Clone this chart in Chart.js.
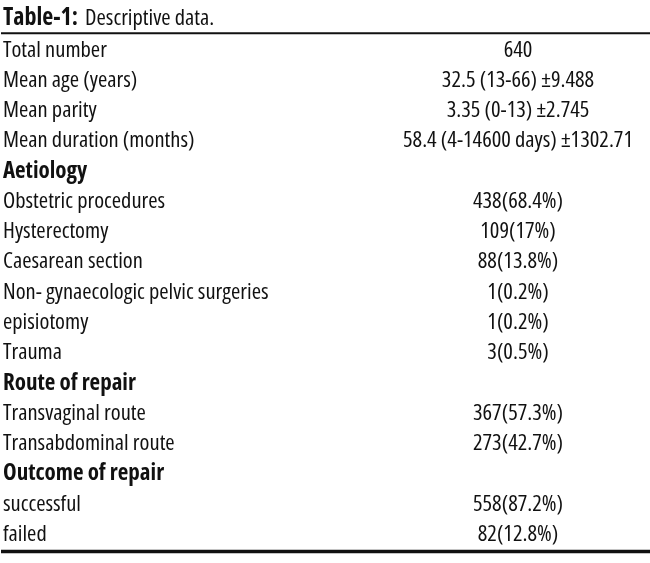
<!DOCTYPE html>
<html>
<head>
<meta charset="utf-8">
<script src="https://cdn.jsdelivr.net/npm/chart.js"></script>
<style>
  html, body { margin: 0; padding: 0; background: #fff; }
  #wrap { width: 650px; height: 563px; position: relative; }
</style>
</head>
<body>
<div id="wrap"><canvas id="table"></canvas></div>
<script>
// table content
const rowLabels = [
  'Total number',
  'Mean age (years)',
  'Mean parity',
  'Mean duration (months)',
  'Aetiology',
  'Obstetric procedures',
  'Hysterectomy',
  'Caesarean section',
  'Non- gynaecologic pelvic surgeries',
  'episiotomy',
  'Trauma',
  'Route of repair',
  'Transvaginal route',
  'Transabdominal route',
  'Outcome of repair',
  'successful',
  'failed',
]
const valueLabels = [
  '640',
  '32.5 (13-66) ±9.488',
  '3.35 (0-13) ±2.745',
  '58.4 (4-14600 days) ±1302.71',
  '',
  '438(68.4%)',
  '109(17%)',
  '88(13.8%)',
  '1(0.2%)',
  '1(0.2%)',
  '3(0.5%)',
  '',
  '367(57.3%)',
  '273(42.7%)',
  '',
  '558(87.2%)',
  '82(12.8%)',
]
const sectionHeaders = ['Aetiology', 'Route of repair', 'Outcome of repair']
const titleBold = 'Table-1:'
const titleText = 'Descriptive data.'

// condensed Open Sans; the stretch keyword rides along in the weight slot of the font string
const FAMILY = '"Open Sans", "DejaVu Sans Condensed", sans-serif'
const SIZE = 22.5
const BOLD_SIZE = 23
const INK = '#111'
const VALUE_CENTER = 518

const fontFor = (bold) => ({
  family: FAMILY,
  size: bold ? BOLD_SIZE : SIZE,
  weight: bold ? 'bold condensed' : 'normal condensed',
})
const cssFont = (bold, size) =>
  `${bold ? 'bold' : 'normal'} condensed ${size || (bold ? BOLD_SIZE : SIZE)}px ${FAMILY}`

function widestOf(ctx, labels, isBold) {
  let widest = 0
  labels.forEach((t) => {
    ctx.font = cssFont(isBold(t))
    widest = Math.max(widest, ctx.measureText(t).width)
  })
  return widest
}

const tablePlugin = {
  id: 'tableDecor',
  afterDraw(chart) {
    const { ctx, chartArea } = chart
    ctx.save()
    ctx.fillStyle = INK
    ctx.textBaseline = 'alphabetic'
    ctx.textAlign = 'left'
    ctx.font = cssFont(true, 24)
    ctx.fillText(titleBold, 3, 25)
    const w = ctx.measureText(titleBold).width
    ctx.font = cssFont(false)
    ctx.fillText(titleText, 3 + w + 7, 25)

    ctx.strokeStyle = INK
    ctx.lineWidth = 2
    ctx.beginPath()
    ctx.moveTo(1, chartArea.top - 1.7)
    ctx.lineTo(chart.width, chartArea.top - 1.7)
    ctx.stroke()

    ctx.lineWidth = 3.5
    ctx.beginPath()
    ctx.moveTo(1, chartArea.bottom + 2)
    ctx.lineTo(chart.width, chartArea.bottom + 2)
    ctx.stroke()
    ctx.restore()
  },
}

new Chart(document.getElementById('table'), {
  type: 'bar',
  data: {
    labels: rowLabels,
    datasets: [],
  },
  options: {
    indexAxis: 'y',
    responsive: true,
    maintainAspectRatio: false,
    animation: false,
    layout: {
      padding: { top: 35, bottom: 10.5, left: 3, right: 0 },
    },
    plugins: {
      legend: { display: false },
      tooltip: { enabled: false },
    },
    scales: {
      x: { display: false },
      y: {
        type: 'category',
        position: 'left',
        offset: true,
        grid: { display: false, drawTicks: false },
        border: { display: false },
        ticks: {
          autoSkip: false,
          padding: 0,
          crossAlign: 'far',
          color: INK,
          font: (ctx) => fontFor(sectionHeaders.includes(ctx.tick && ctx.tick.label)),
        },
        afterFit(scale) {
          const ctx = scale.ctx
          ctx.save()
          scale.width = widestOf(ctx, rowLabels, (t) => sectionHeaders.includes(t)) + 4
          ctx.restore()
        },
      },
      values: {
        type: 'category',
        position: 'right',
        labels: valueLabels,
        offset: true,
        grid: { display: false, drawTicks: false },
        border: { display: false },
        ticks: {
          autoSkip: false,
          padding: 0,
          crossAlign: 'center',
          color: INK,
          font: fontFor(false),
        },
        afterFit(scale) {
          const ctx = scale.ctx
          ctx.save()
          const widest = widestOf(ctx, valueLabels, () => false)
          ctx.restore()
          scale.width = scale.chart.width - (VALUE_CENTER - widest / 2)
        },
      },
    },
  },
  plugins: [tablePlugin],
})
</script>
</body>
</html>
